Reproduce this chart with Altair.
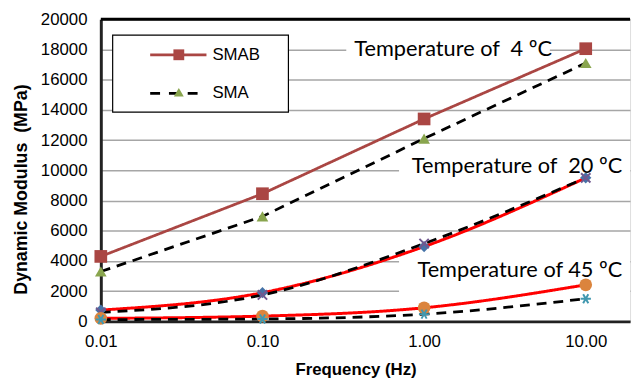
import altair as alt
import pandas as pd

# ---- data ----
freq = [0.01, 0.1, 1.0, 10.0]
smab_4 = [4300, 8450, 13400, 18050]
sma_4 = [3300, 6950, 12100, 17100]
smab_20 = [750, 1900, 4950, 9500]
sma_20 = [600, 1750, 5150, 9500]
smab_45 = [200, 350, 900, 2420]
sma_45 = [120, 160, 480, 1500]

series_names = ["SMAB 4", "SMA 4", "SMAB 20", "SMA 20", "SMAB 45", "SMA 45"]
series_values = [smab_4, sma_4, smab_20, sma_20, smab_45, sma_45]

y_ticks = list(range(0, 20001, 2000))
x_ticks = [0.01, 0.1, 1.0, 10.0]

ann_text = ["Temperature of\u00a0 4 \u00baC", "Temperature of\u00a0 20 \u00baC", "Temperature of 45 \u00baC"]
ann_x = [0.37, 0.84, 0.91]
ann_y = [18000, 10300, 3400]
box_x = [0.33, 0.70, 0.70]
box_x2 = [6.0, 18.8, 18.8]
box_y = [18900, 11300, 4450]
box_y2 = [16350, 9050, 1900]

legend_labels = ["SMAB", "SMA"]

rows = []
for name, vals in zip(series_names, series_values):
    for f, v in zip(freq, vals):
        rows.append({"series": name, "freq": f, "value": v})
df = pd.DataFrame(rows)

ann_df = pd.DataFrame({"text": ann_text, "freq": ann_x, "value": ann_y})
box_df = pd.DataFrame({"freq": box_x, "freq2": box_x2, "value": box_y, "value2": box_y2})
top_df = pd.DataFrame({"value": [max(y_ticks)]})

W, H = 536, 306
xscale = alt.Scale(type="log", domain=[0.01, 18.8], nice=False)
yscale = alt.Scale(domain=[0, 20000], nice=False)

X = alt.X("freq:Q", scale=xscale,
          axis=alt.Axis(values=x_ticks, format=".2f", title="Frequency (Hz)",
                        labelFontSize=17, labelFont="Liberation Sans", labelColor="#000",
                        labelPadding=12, ticks=False, grid=False, labelOverlap=False,
                        domainColor="#222", domainWidth=3,
                        titleFont="Liberation Sans", titleFontSize=17, titleFontWeight="bold",
                        titleColor="#000", titleX=258, titleY=49, titleBaseline="middle",
                        titleAlign="center", labelFlush=False))
Y = alt.Y("value:Q", scale=yscale,
          axis=alt.Axis(values=y_ticks, format="d", title="Dynamic Modulus\u00a0 (MPa)",
                        labelFontSize=17, labelFont="Liberation Sans", labelColor="#000",
                        labelPadding=14, ticks=False, labelOverlap=False,
                        domainColor="#222", domainWidth=3,
                        grid=True, gridColor="#a6a6a6", gridWidth=1.5,
                        titleFont="Liberation Sans", titleFontSize=18, titleFontWeight="bold",
                        titleColor="#000", titleX=-80, titleY=172, titleAngle=-90,
                        titleAlign="center", titleBaseline="middle"))

styles = {
    "SMAB 4": dict(color="#AA4643", dash=[1, 0], width=2.8, interp="linear",
                   shape="square", mcolor="#AA4643", filled=True, size=165),
    "SMA 4": dict(color="#000000", dash=[10, 7], width=2.8, interp="linear",
                  shape="triangle-up", mcolor="#89A54E", filled=True, size=140),
    "SMAB 20": dict(color="#FF0000", dash=[1, 0], width=3, interp="monotone",
                    shape="diamond", mcolor="#4572A7", filled=True, size=130),
    "SMA 20": dict(color="#000000", dash=[10, 7], width=2.8, interp="monotone",
                   shape="M-1,-1L1,1M-1,1L1,-1", mcolor="#71588F", filled=False, size=90),
    "SMAB 45": dict(color="#FF0000", dash=[1, 0], width=3, interp="monotone",
                    shape="circle", mcolor="#DB843D", filled=True, size=165),
    "SMA 45": dict(color="#000000", dash=[10, 7], width=2.8, interp="monotone",
                   shape="M-1,0H1M-0.5,-0.87L0.5,0.87M-0.5,0.87L0.5,-0.87", mcolor="#4198AF",
                   filled=False, size=110),
}

base = alt.Chart(df).encode(x=X, y=Y)

line_layers = []
point_layers = []
for name in series_names:
    s = styles[name]
    line_layers.append(
        base.transform_filter(alt.datum.series == name).mark_line(
            color=s["color"], strokeDash=s["dash"], strokeWidth=s["width"],
            interpolate=s["interp"], clip=True))
    if s["filled"]:
        pt = base.transform_filter(alt.datum.series == name).mark_point(
            shape=s["shape"], filled=True, size=s["size"], color=s["mcolor"], opacity=1)
    else:
        pt = base.transform_filter(alt.datum.series == name).mark_point(
            shape=s["shape"], filled=False, size=s["size"], color=s["mcolor"],
            opacity=1, strokeWidth=2)
    point_layers.append(pt)

boxes = alt.Chart(box_df).mark_rect(color="white").encode(
    x=X, x2="freq2:Q", y=Y, y2="value2:Q")

top_rule = alt.Chart(top_df).mark_rule(color="#000", strokeWidth=3).encode(y=Y)

texts = alt.Chart(ann_df).mark_text(
    align="left", baseline="middle", font="Lato", fontSize=22, color="#000").encode(
    x=X, y=Y, text="text:N")

# legend (decoration)
leg_df = pd.DataFrame({"label": legend_labels})
one = leg_df.head(1)
leg_box = alt.Chart(one).mark_rect(fill="white", stroke="#000", strokeWidth=1.2).encode(
    x=alt.value(12), x2=alt.value(190), y=alt.value(16), y2=alt.value(94))
leg_line1 = alt.Chart(one).mark_rule(color="#AA4643", strokeWidth=2.8).encode(
    x=alt.value(50), x2=alt.value(107), y=alt.value(36))
leg_sq = alt.Chart(one).mark_point(shape="square", filled=True, size=120,
                                   color="#AA4643", opacity=1).encode(
    x=alt.value(79), y=alt.value(36))
leg_line2 = alt.Chart(one).mark_rule(color="#000", strokeWidth=2.8,
                                     strokeDash=[10, 9]).encode(
    x=alt.value(50), x2=alt.value(107), y=alt.value(75))
leg_tri = alt.Chart(one).mark_point(shape="triangle-up", filled=True, size=100,
                                    color="#89A54E", opacity=1).encode(
    x=alt.value(79), y=alt.value(74))
leg_txt = alt.Chart(leg_df).transform_window(idx="row_number()").transform_calculate(
    py="36 + (datum.idx - 1) * 39").mark_text(
    align="left", baseline="middle", font="Liberation Sans", fontSize=17, color="#000").encode(
    x=alt.value(113), y=alt.Y("py:Q", scale=None), text="label:N")

chart = alt.layer(
    boxes, top_rule, *line_layers, *point_layers, texts,
    leg_box, leg_line1, leg_sq, leg_line2, leg_tri, leg_txt
).properties(
    width=W, height=H,
    autosize=alt.AutoSizeParams(type="none"),
    padding={"left": 94, "top": 9, "right": 4, "bottom": 58},
).configure_view(stroke="#333", strokeWidth=1.2).configure(background="white")

chart.save("out.html", embed_options={"renderer": "svg", "actions": False})
